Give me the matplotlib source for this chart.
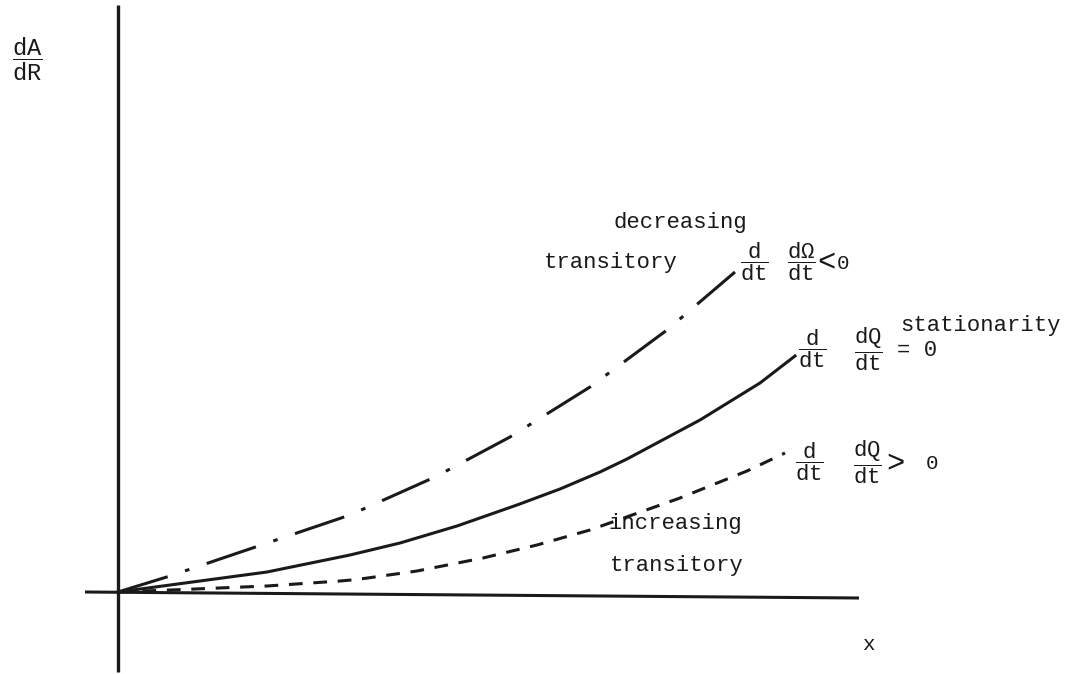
import matplotlib
matplotlib.use('Agg')
import matplotlib.pyplot as plt

plt.rcParams['font.family'] = ['Liberation Mono', 'DejaVu Sans']
plt.rcParams['mathtext.fontset'] = 'custom'
plt.rcParams['mathtext.rm'] = 'Liberation Mono'
plt.rcParams['mathtext.it'] = 'Liberation Mono'
plt.rcParams['mathtext.bf'] = 'Liberation Mono:bold'

# curves (origin = axes crossing)
dec_x = [0, 0.52, 1.02, 2.32, 3.17, 3.92, 4.72, 5.49, 5.90, 6.17]
dec_y = [0, 0.16, 0.33, 0.77, 1.15, 1.55, 2.05, 2.62, 2.97, 3.20]

stat_x = [0, 0.82, 1.49, 2.32, 2.82, 3.39, 3.99, 4.42, 4.82, 5.09, 5.82, 6.42, 6.77]
stat_y = [0, 0.11, 0.20, 0.37, 0.49, 0.66, 0.87, 1.03, 1.20, 1.33, 1.72, 2.09, 2.36]

inc_x = [0, 0.65, 1.49, 2.22, 2.39, 2.99, 3.65, 4.19, 4.72, 5.62, 6.29, 6.67]
inc_y = [0, 0.025, 0.06, 0.11, 0.125, 0.21, 0.34, 0.47, 0.62, 0.94, 1.21, 1.39]

# axis extents
xaxis_x = [-0.33, 7.41]
xaxis_y = [0.0, -0.06]
yaxis_x = [0.0, 0.0]
yaxis_y = [-0.80, 5.87]

INK = '#1a1a1a'


def pos(px, py):
    # pixel position in the sketch -> data units
    return (px - 118) / 100.0, (592 - py) / 100.0


def label(ax, px, py, s, size=16, ha='center', va='center'):
    x, y = pos(px, py)
    ax.text(x, y, s, fontsize=size, ha=ha, va=va, color=INK)


fig = plt.figure(figsize=(10.87, 6.74), dpi=100)
ax = fig.add_axes([0, 0, 1, 1])
ax.set_xlim(-1.18, 9.69)
ax.set_ylim(-0.82, 5.92)
ax.axis('off')

ax.plot(yaxis_x, yaxis_y, color=INK, lw=2.4, solid_capstyle='butt')
ax.plot(xaxis_x, xaxis_y, color=INK, lw=2.2, solid_capstyle='butt')

ax.plot(dec_x, dec_y, color=INK, lw=2.2, dashes=(17, 6, 1.5, 6))
ax.plot(stat_x, stat_y, color=INK, lw=2.2)
ax.plot(inc_x, inc_y, color=INK, lw=2.2, dashes=(4.5, 3.5))

# text
label(ax, 27, 59, r'$\dfrac{dA}{dR}$', size=17)
label(ax, 868, 645, 'x', size=15)

label(ax, 680, 222, 'decreasing')
label(ax, 678, 262, 'transitory', ha='right')
label(ax, 754, 262, r'$\dfrac{d}{dt}$', size=16)
label(ax, 801, 262, r'$\dfrac{d\Omega}{dt}$', size=16)
label(ax, 817, 263, '<', size=22, ha='left')
label(ax, 843, 263, '0', size=15)

label(ax, 812, 349, r'$\dfrac{d}{dt}$', size=16)
label(ax, 868, 349, r'$\dfrac{dQ}{dt}$', size=16)
label(ax, 897, 350, '= 0', ha='left')
label(ax, 900, 326, 'stationarity', ha='left')

label(ax, 809, 462, r'$\dfrac{d}{dt}$', size=16)
label(ax, 867, 462, r'$\dfrac{dQ}{dt}$', size=16)
label(ax, 895, 464, '>', size=22)
label(ax, 932, 463, '0', size=15)

label(ax, 675, 524, 'increasing')
label(ax, 677, 565, 'transitory')

fig.savefig('out.png', dpi=100)
plt.close(fig)
